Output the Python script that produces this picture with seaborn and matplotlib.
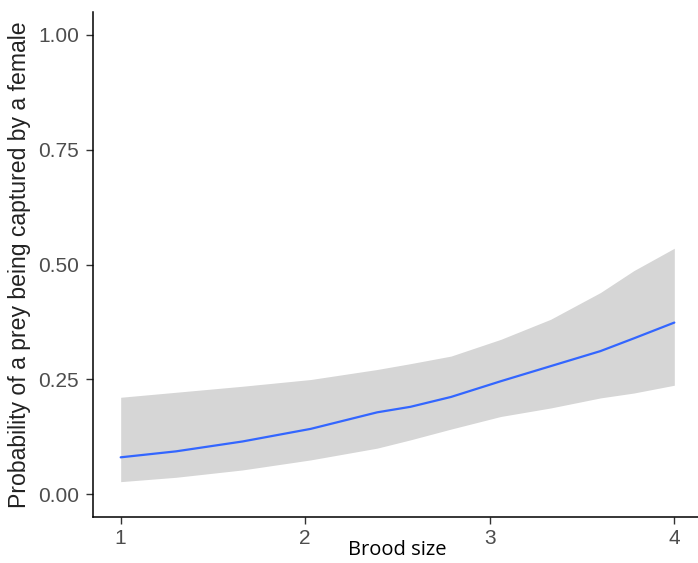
import matplotlib
matplotlib.use("Agg")
import matplotlib.pyplot as plt
import seaborn as sns
import pandas as pd

brood_size = [1.0, 1.30, 1.66, 2.03, 2.39, 2.57, 2.79, 3.06, 3.33, 3.60, 3.78, 4.0]
prob_fit = [0.080, 0.093, 0.1145, 0.142, 0.178, 0.190, 0.2115, 0.2458, 0.2786, 0.3114, 0.339, 0.3735]
ci_upper = [0.2108, 0.2217, 0.2348, 0.2495, 0.2713, 0.284, 0.3005, 0.337, 0.3807, 0.439, 0.4865, 0.5354]
ci_lower = [0.027, 0.0365, 0.0525, 0.0744, 0.100, 0.118, 0.1415, 0.169, 0.1875, 0.2094, 0.220, 0.237]
x_ticks = [1, 2, 3, 4]
y_ticks = [0.00, 0.25, 0.50, 0.75, 1.00]
y_tick_labels = ["0.00", "0.25", "0.50", "0.75", "1.00"]

df = pd.DataFrame({"brood": brood_size, "fit": prob_fit, "lo": ci_lower, "hi": ci_upper})

sns.set_style("ticks")
plt.rcParams['font.family'] = ['Liberation Sans', 'DejaVu Sans']

fig = plt.figure(figsize=(6.98, 5.63), dpi=100)
ax = fig.add_axes([93 / 698, 46 / 563, 609 / 698, 505 / 563])

ax.fill_between(df["brood"], df["lo"], df["hi"], color="#D6D6D6", linewidth=0, zorder=1)
sns.lineplot(data=df, x="brood", y="fit", ax=ax, color="#3366FF", linewidth=1.6, zorder=2)

ax.set_xlim(0.85, 4.15)
ax.set_ylim(-0.05, 1.05)
ax.set_xticks(x_ticks)
ax.set_xticklabels([str(t) for t in x_ticks])
ax.set_yticks(y_ticks)
ax.set_yticklabels(y_tick_labels)

ax.tick_params(axis="both", which="major", length=5, width=1, color="#333333",
               labelsize=15, labelcolor="#4D4D4D", direction="out", pad=4,
               bottom=True, left=True)
ax.tick_params(axis="y", pad=5)

for side in ["top", "right"]:
    ax.spines[side].set_visible(False)
for side in ["left", "bottom"]:
    ax.spines[side].set_color("black")
    ax.spines[side].set_linewidth(1.1)

ax.set_xlabel("Brood size", fontsize=14.5, family=["Open Sans", "DejaVu Sans"], color="black", labelpad=-6)
ax.set_ylabel("Probability of a prey being captured by a female", fontsize=16.6, color="#222222", labelpad=5)

fig.savefig("out.png", dpi=100)
